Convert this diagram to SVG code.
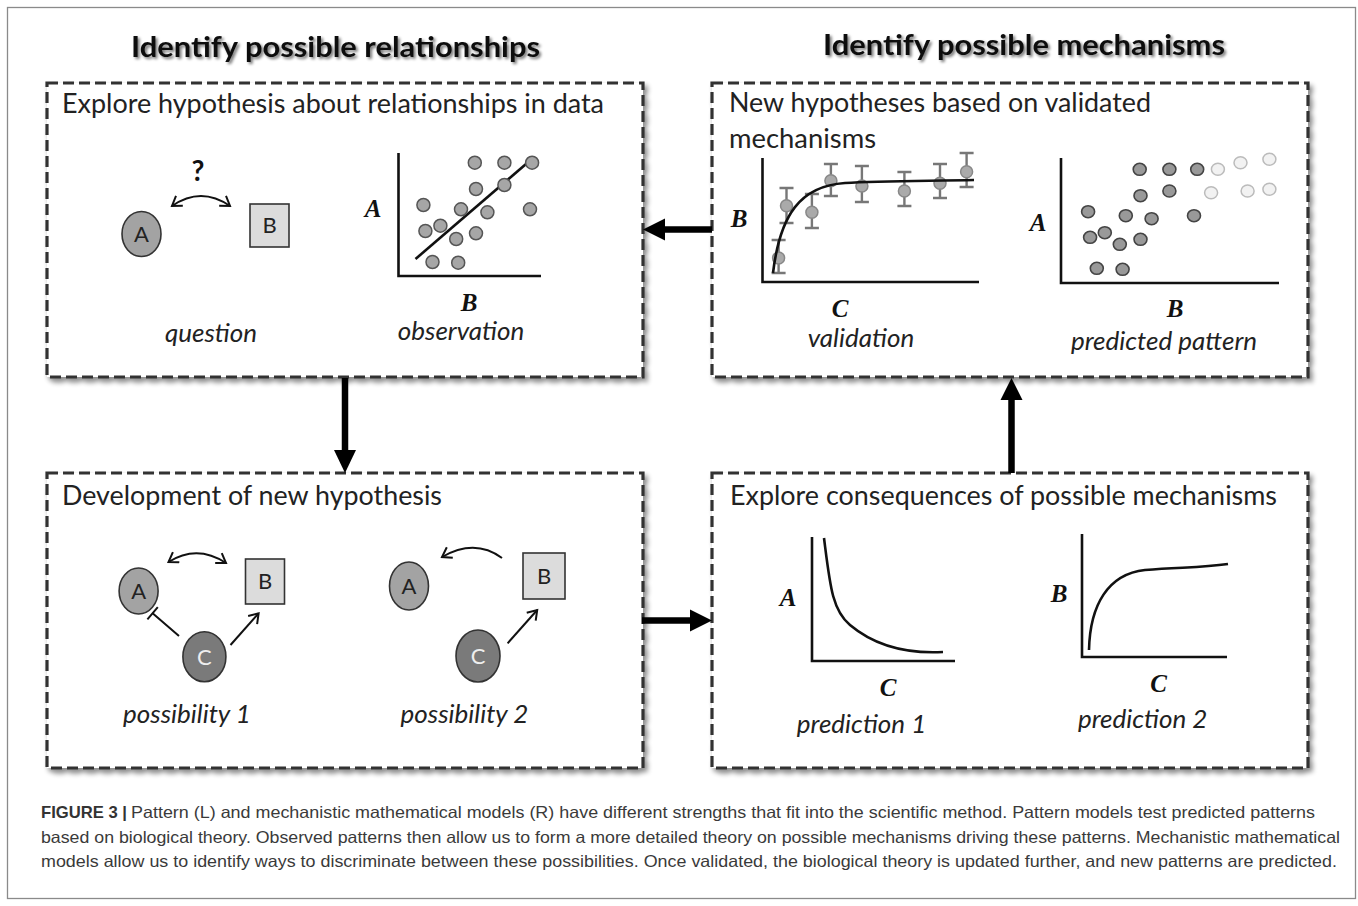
<svg xmlns="http://www.w3.org/2000/svg" width="1358" height="906" viewBox="0 0 1358 906">
<defs>
<filter id="boxShadow" x="-5%" y="-5%" width="112%" height="115%">
<feGaussianBlur in="SourceAlpha" stdDeviation="2.5"/>
<feOffset dx="3" dy="4" result="b"/>
<feComponentTransfer><feFuncA type="linear" slope="0.45"/></feComponentTransfer>
<feMerge><feMergeNode/><feMergeNode in="SourceGraphic"/></feMerge>
</filter>
<filter id="titleShadow" x="-5%" y="-30%" width="110%" height="170%">
<feGaussianBlur in="SourceAlpha" stdDeviation="1.5"/>
<feOffset dx="2" dy="2" result="b"/>
<feComponentTransfer><feFuncA type="linear" slope="0.55"/></feComponentTransfer>
<feMerge><feMergeNode/><feMergeNode in="SourceGraphic"/></feMerge>
</filter>
<marker id="openHead" markerUnits="userSpaceOnUse" markerWidth="14" markerHeight="14" viewBox="0 0 14 14" refX="11" refY="7" orient="auto-start-reverse">
<path d="M2,1 L11,7 L2,13" fill="none" stroke="#111" stroke-width="2"/>
</marker>
</defs>
<style>
.frame{fill:#fff;stroke:#8a8a8a;stroke-width:1.3}
.box{fill:#fff;stroke:#333;stroke-width:3.2;stroke-dasharray:11 5}
.title{font-family:Lato,"Open Sans",sans-serif;font-weight:bold;font-size:28px;fill:#111}
.head{font-family:Lato,"Open Sans",sans-serif;font-size:26px;fill:#222}
.lab{font-family:Lato,"Open Sans",sans-serif;font-style:italic;font-size:26px;fill:#222;text-anchor:middle}
.ax{font-family:"Liberation Serif",serif;font-style:italic;font-weight:bold;font-size:25px;fill:#111;text-anchor:middle}
.axis{fill:none;stroke:#111;stroke-width:2.6}
.curve{fill:none;stroke:#111;stroke-width:2.6}
.nodeA{fill:#a3a3a3;stroke:#333;stroke-width:1.6}
.nodeB{fill:#dcdcdc;stroke:#333;stroke-width:1.6}
.nodeC{fill:#7a7a7a;stroke:#333;stroke-width:1.6}
.nl{font-family:Lato,"Open Sans",sans-serif;font-size:22px;fill:#222;text-anchor:middle}
.nlw{font-family:Lato,"Open Sans",sans-serif;font-size:22px;fill:#eee;text-anchor:middle}
.dot{fill:#a6a6a6;stroke:#555;stroke-width:1.5}
.ddot{fill:#999;stroke:#444;stroke-width:1.6}
.ldot{fill:#f2f2f2;stroke:#bbb;stroke-width:1.5}
.vdot{fill:#aaa;stroke:#888;stroke-width:1.5}
.err{fill:none;stroke:#777;stroke-width:2.4}
.thin{fill:none;stroke:#111;stroke-width:2}
.big{stroke:#000;stroke-width:6.5;fill:none}
.bighead{fill:#000}
.cap{font-family:"Liberation Sans",Arial,sans-serif;font-size:16.5px;fill:#3a3a3a}
.capb{font-family:"Liberation Sans",Arial,sans-serif;font-size:16.5px;font-weight:bold;fill:#333}
</style>
<rect class="frame" x="7.5" y="7.5" width="1348" height="891"/>

<text class="title" x="131" y="57" textLength="409" lengthAdjust="spacingAndGlyphs" filter="url(#titleShadow)">Identify possible relationships</text>
<text class="title" x="823" y="55" textLength="402" lengthAdjust="spacingAndGlyphs" filter="url(#titleShadow)">Identify possible mechanisms</text>

<g id="box-explore-hypothesis">
<rect class="box" x="47" y="83" width="596" height="294" filter="url(#boxShadow)"/>
<text class="head" x="62" y="113" textLength="542" lengthAdjust="spacingAndGlyphs">Explore hypothesis about relationships in data</text>
<ellipse class="nodeA" cx="141.5" cy="234" rx="19.5" ry="22.5"/>
<text class="nl" x="141.5" y="242">A</text>
<rect class="nodeB" x="250" y="204" width="39" height="43"/>
<text class="nl" x="269.5" y="233">B</text>
<path class="thin" d="M172,206 Q201,186 230,206" marker-start="url(#openHead)" marker-end="url(#openHead)"/>
<text x="198" y="181" font-family="Lato,'Open Sans',sans-serif" font-weight="bold" font-size="28" fill="#111" text-anchor="middle">?</text>
<path class="axis" d="M398.5,153 V276 H541"/>
<line x1="415.5" y1="259" x2="533" y2="158" stroke="#111" stroke-width="2.6"/>
<g>
<circle class="dot" cx="474.8" cy="162.7" r="6.5"/>
<circle class="dot" cx="504.4" cy="162.7" r="6.5"/>
<circle class="dot" cx="532.1" cy="162.7" r="6.5"/>
<circle class="dot" cx="476" cy="189" r="6.5"/>
<circle class="dot" cx="504.4" cy="185" r="6.5"/>
<circle class="dot" cx="423.4" cy="205" r="6.5"/>
<circle class="dot" cx="461" cy="209.3" r="6.5"/>
<circle class="dot" cx="487.4" cy="212.3" r="6.5"/>
<circle class="dot" cx="530" cy="209.3" r="6.5"/>
<circle class="dot" cx="425.4" cy="231" r="6.5"/>
<circle class="dot" cx="440.4" cy="225.7" r="6.5"/>
<circle class="dot" cx="456.2" cy="239" r="6.5"/>
<circle class="dot" cx="476" cy="233.3" r="6.5"/>
<circle class="dot" cx="432.5" cy="262" r="6.5"/>
<circle class="dot" cx="458.2" cy="262.7" r="6.5"/>
</g>
<text class="ax" x="373" y="217">A</text>
<text class="ax" x="469" y="311">B</text>
<text class="lab" x="211" y="342">question</text>
<text class="lab" x="461" y="340">observation</text>
</g>

<g id="box-new-hypotheses">
<rect class="box" x="712" y="83" width="596" height="294" filter="url(#boxShadow)"/>
<text class="head" x="729" y="112" textLength="422" lengthAdjust="spacingAndGlyphs">New hypotheses based on validated</text>
<text class="head" x="729" y="148" textLength="147" lengthAdjust="spacingAndGlyphs">mechanisms</text>
<path class="axis" d="M762.5,158 V282 H979"/>
<g>
<path class="err" d="M778.6,240 V273 M771.6,240 H785.6 M771.6,273 H785.6"/>
<path class="err" d="M786.5,188 V223 M779.5,188 H793.5 M779.5,223 H793.5"/>
<path class="err" d="M811.9,194 V228 M804.9,194 H818.9 M804.9,228 H818.9"/>
<path class="err" d="M830.9,164 V196 M823.9,164 H837.9 M823.9,196 H837.9"/>
<path class="err" d="M861.9,166 V202 M854.9,166 H868.9 M854.9,202 H868.9"/>
<path class="err" d="M904.4,172 V206 M897.4,172 H911.4 M897.4,206 H911.4"/>
<path class="err" d="M940,164 V198 M933,164 H947 M933,198 H947"/>
<path class="err" d="M966.6,153 V187 M959.6,153 H973.6 M959.6,187 H973.6"/>
<circle class="vdot" cx="778.6" cy="258" r="6"/>
<circle class="vdot" cx="786.5" cy="205.7" r="6"/>
<circle class="vdot" cx="811.9" cy="212.3" r="6"/>
<circle class="vdot" cx="830.9" cy="180.7" r="6"/>
<circle class="vdot" cx="861.9" cy="186" r="6"/>
<circle class="vdot" cx="904.4" cy="191" r="6"/>
<circle class="vdot" cx="940" cy="183.3" r="6"/>
<circle class="vdot" cx="966.6" cy="171.7" r="6"/>
</g>
<path class="curve" d="M773,273 C780,215 800,186 845,183 C880,181 930,181 974,180"/>
<text class="ax" x="739" y="227">B</text>
<text class="ax" x="840" y="317">C</text>
<text class="lab" x="861" y="347">validation</text>
<path class="axis" d="M1061,158 V283 H1279"/>
<g>
<ellipse class="ddot" cx="1139.7" cy="169.3" rx="6.5" ry="6"/>
<ellipse class="ddot" cx="1169.4" cy="169.3" rx="6.5" ry="6"/>
<ellipse class="ddot" cx="1197.2" cy="169.3" rx="6.5" ry="6"/>
<ellipse class="ddot" cx="1140.5" cy="195.7" rx="6.5" ry="6"/>
<ellipse class="ddot" cx="1169.4" cy="191" rx="6.5" ry="6"/>
<ellipse class="ddot" cx="1088.1" cy="211.7" rx="6.5" ry="6"/>
<ellipse class="ddot" cx="1125.8" cy="215.7" rx="6.5" ry="6"/>
<ellipse class="ddot" cx="1151.6" cy="218.7" rx="6.5" ry="6"/>
<ellipse class="ddot" cx="1194" cy="215.7" rx="6.5" ry="6"/>
<ellipse class="ddot" cx="1090.1" cy="237.3" rx="6.5" ry="6"/>
<ellipse class="ddot" cx="1104.8" cy="232.7" rx="6.5" ry="6"/>
<ellipse class="ddot" cx="1119.8" cy="244.3" rx="6.5" ry="6"/>
<ellipse class="ddot" cx="1140.5" cy="239.3" rx="6.5" ry="6"/>
<ellipse class="ddot" cx="1096.8" cy="268.3" rx="6.5" ry="6"/>
<ellipse class="ddot" cx="1122.6" cy="269.3" rx="6.5" ry="6"/>
<ellipse class="ldot" cx="1217.9" cy="169.3" rx="6.5" ry="6"/>
<ellipse class="ldot" cx="1240.5" cy="162.7" rx="6.5" ry="6"/>
<ellipse class="ldot" cx="1269.4" cy="159.3" rx="6.5" ry="6"/>
<ellipse class="ldot" cx="1211.1" cy="192.7" rx="6.5" ry="6"/>
<ellipse class="ldot" cx="1247.6" cy="191" rx="6.5" ry="6"/>
<ellipse class="ldot" cx="1269.4" cy="189.3" rx="6.5" ry="6"/>
</g>
<text class="ax" x="1038" y="231">A</text>
<text class="ax" x="1175" y="317">B</text>
<text class="lab" x="1164" y="350">predicted pattern</text>
</g>

<g id="box-development">
<rect class="box" x="47" y="473" width="596" height="295" filter="url(#boxShadow)"/>
<text class="head" x="62" y="505" textLength="380" lengthAdjust="spacingAndGlyphs">Development of new hypothesis</text>
<ellipse class="nodeA" cx="138.6" cy="591" rx="19.5" ry="23"/>
<text class="nl" x="138.6" y="599">A</text>
<rect class="nodeB" x="245.5" y="559" width="39" height="45"/>
<text class="nl" x="265" y="589">B</text>
<ellipse class="nodeC" cx="204.4" cy="656.7" rx="21.5" ry="25"/>
<text class="nlw" x="204.4" y="665">C</text>
<path class="thin" d="M168.5,562 Q197,544 226,563" marker-start="url(#openHead)" marker-end="url(#openHead)"/>
<path class="thin" d="M179,636 L152.6,613.3 M147.4,619.4 L157.8,607.2"/>
<path class="thin" d="M230.5,645 L258.6,613.3" marker-end="url(#openHead)"/>
<text class="lab" x="187" y="723">possibility 1</text>
<ellipse class="nodeA" cx="409" cy="586" rx="19.5" ry="24"/>
<text class="nl" x="409" y="594">A</text>
<rect class="nodeB" x="523" y="553" width="42" height="46"/>
<text class="nl" x="544" y="584">B</text>
<ellipse class="nodeC" cx="478" cy="656" rx="22" ry="26"/>
<text class="nlw" x="478" y="664">C</text>
<path class="thin" d="M502,558 Q475,538 442,557" marker-end="url(#openHead)"/>
<path class="thin" d="M507.6,643.3 L537.2,610" marker-end="url(#openHead)"/>
<text class="lab" x="464.5" y="723">possibility 2</text>
</g>

<g id="box-explore-consequences">
<rect class="box" x="712" y="473" width="596" height="295" filter="url(#boxShadow)"/>
<text class="head" x="730" y="505" textLength="547" lengthAdjust="spacingAndGlyphs">Explore consequences of possible mechanisms</text>
<path class="axis" d="M812,537 V661 H955"/>
<path class="curve" d="M824,538 C830,585 832,610 850,625 C875,646 905,654 943,652"/>
<text class="ax" x="788" y="606">A</text>
<text class="ax" x="888" y="696">C</text>
<text class="lab" x="861.5" y="733">prediction 1</text>
<path class="axis" d="M1082,534 V657 H1227"/>
<path class="curve" d="M1089,650 C1090,605 1108,574 1145,570 C1180,567 1200,568 1228,564"/>
<text class="ax" x="1059" y="602">B</text>
<text class="ax" x="1158.5" y="692">C</text>
<text class="lab" x="1142.7" y="728">prediction 2</text>
</g>

<g id="connectors">
<line class="big" x1="345" y1="378" x2="345" y2="452"/>
<polygon class="bighead" points="334,450 356,450 345,473"/>
<line class="big" x1="712" y1="229.5" x2="663" y2="229.5"/>
<polygon class="bighead" points="665,218.5 665,240.5 643,229.5"/>
<line class="big" x1="642" y1="620.5" x2="692" y2="620.5"/>
<polygon class="bighead" points="690,609.5 690,631.5 712,620.5"/>
<line class="big" x1="1011.5" y1="473" x2="1011.5" y2="398"/>
<polygon class="bighead" points="1000.5,400 1022.5,400 1011.5,378"/>
</g>

<g id="caption">
<text class="capb" x="41" y="818" textLength="86" lengthAdjust="spacingAndGlyphs">FIGURE 3 |</text>
<text class="cap" x="131" y="818" textLength="1184" lengthAdjust="spacingAndGlyphs">Pattern (L) and mechanistic mathematical models (R) have different strengths that fit into the scientific method. Pattern models test predicted patterns</text>
<text class="cap" x="41" y="843" textLength="1299" lengthAdjust="spacingAndGlyphs">based on biological theory. Observed patterns then allow us to form a more detailed theory on possible mechanisms driving these patterns. Mechanistic mathematical</text>
<text class="cap" x="41" y="867" textLength="1296" lengthAdjust="spacingAndGlyphs">models allow us to identify ways to discriminate between these possibilities. Once validated, the biological theory is updated further, and new patterns are predicted.</text>
</g>
</svg>
